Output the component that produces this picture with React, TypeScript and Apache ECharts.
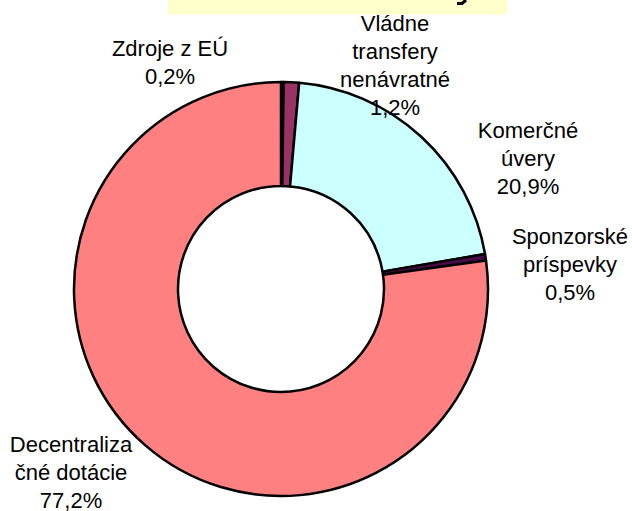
import React, { useEffect, useRef } from "react";
import * as echarts from "echarts";

const categories = [
  "Zdroje z EÚ",
  "Vládne transfery nenávratné",
  "Komerčné úvery",
  "Sponzorské príspevky",
  "Decentralizačné dotácie",
];
const labelTexts = [
  "Zdroje z EÚ",
  "Vládne\ntransfery\nnenávratné",
  "Komerčné\núvery",
  "Sponzorské\npríspevky",
  "Decentraliza\nčné dotácie",
];
const values = [0.2, 1.2, 20.9, 0.5, 77.2];
const colors = ["#1a1a4a", "#993366", "#CCFFFF", "#4a0a4a", "#FF8080"];
const labelPos = [
  [170, 62],
  [395, 65],
  [528, 158],
  [570, 264],
  [71, 472],
];

export default function App() {
  const ref = useRef<HTMLDivElement>(null);
  useEffect(() => {
    if (!ref.current) return;
    const chart = echarts.init(ref.current, null, { renderer: "svg" });
    chart.setOption({
      animation: false,
      backgroundColor: "#ffffff",
      graphic: [
        {
          type: "rect",
          shape: { x: 168, y: 0, width: 339, height: 14.5 },
          style: { fill: "#FFFFCC" },
          z: 0,
        },
        {
          type: "polyline",
          shape: { points: [[466, 0], [462, 3.5], [457, 3.5]] },
          style: { stroke: "#000", lineWidth: 3, fill: null },
          z: 1,
        },
      ],
      series: [
        {
          type: "pie",
          center: [281, 289],
          radius: [103, 207],
          startAngle: 90,
          clockwise: true,
          silent: true,
          itemStyle: { borderColor: "#000", borderWidth: 2.5 },
          label: {
            show: true,
            position: "outside",
            alignTo: "none",
            overflow: "none",
            fontFamily: "'Liberation Sans', Arial, sans-serif",
            fontSize: 22,
            lineHeight: 28,
            color: "#000",
            align: "center",
            formatter: (p: any) =>
              labelTexts[p.dataIndex] +
              "\n" +
              values[p.dataIndex].toFixed(1).replace(".", ",") +
              "%",
          },
          labelLine: { show: false },
          labelLayout: (p: any) => ({
            x: labelPos[p.dataIndex][0],
            y: labelPos[p.dataIndex][1],
            align: "center",
            verticalAlign: "middle",
            width: 200,
          }),
          data: categories.map((c, i) => ({
            name: c,
            value: values[i],
            itemStyle: { color: colors[i] },
          })),
        },
      ],
    });
    return () => chart.dispose();
  }, []);
  return (
    <div
      ref={ref}
      style={{ position: "fixed", left: 0, top: 0, width: 632, height: 511 }}
    />
  );
}
